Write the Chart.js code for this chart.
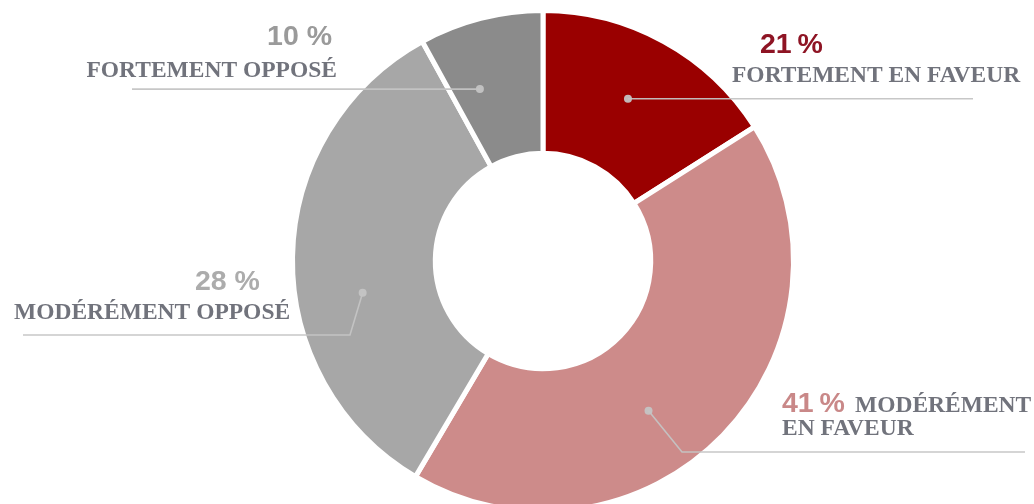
<!DOCTYPE html>
<html lang="fr">
<head>
<meta charset="utf-8">
<script src="https://cdn.jsdelivr.net/npm/chart.js@4.4.1/dist/chart.umd.min.js"></script>
<style>
  html, body { margin: 0; padding: 0; background: #fff; }
  body { width: 1034px; height: 504px; overflow: hidden; }
  .wrap { position: relative; width: 1034px; height: 522px; }
</style>
</head>
<body>
<div class="wrap"><canvas id="opinionChart"></canvas></div>
<script>
/* ============================================================
   opinion doughnut - four answers, labels drawn beside slices
   ============================================================ */

const categories = ["FORTEMENT EN FAVEUR", "MODÉRÉMENT EN FAVEUR", "MODÉRÉMENT OPPOSÉ", "FORTEMENT OPPOSÉ"];
const sliceShares = [16, 42.5, 33.5, 8];
const percentLabels = ["21\u2009%", "41\u2009%", "28 %", "10 %"];

const SLICE_COLORS = ["#9a0000", "#cd8b8a", "#a7a7a7", "#8b8b8b"];
const PERCENT_COLORS = ["#8e1424", "#c98888", "#acacac", "#9a9a9a"];
const NAME_COLOR = "#71737c";
const LEADER_COLOR = "rgba(196,196,196,0.95)";

const PCT_FONT = "bold 28.5px 'Liberation Sans', Arial, sans-serif";
const NAME_FONT = "bold 23.5px 'Liberation Serif', 'Times New Roman', serif";

// where each label sits and how its leader runs
const LABEL_LAYOUT = [
  { along: 0.48, lineTo: [[973, null]], pct: [760, 53, "left"], name: [[732, 82, "left"]] },
  { along: 0.57, lineTo: [[682, 452], [1025, 452]], pct: [782, 412, "left"], name: [[855, 412, "left"], [782, 435, "left"]] },
  { along: 0.41, lineTo: [[350, 335], [23, 335]], pct: [195, 290, "left"], name: [[14, 319, "left"]] },
  { along: 0.3, lineTo: [[132, null]], pct: [332, 45, "right"], name: [[337, 77, "right"]] },
];

function dotFor(arc, along) {
  const { x, y, startAngle, endAngle, innerRadius, outerRadius } = arc.getProps(
    ["x", "y", "startAngle", "endAngle", "innerRadius", "outerRadius"], true);
  const angle = startAngle + (endAngle - startAngle) * along;
  const r = (innerRadius + outerRadius) / 2 + 4;
  return { x: x + Math.cos(angle) * r, y: y + Math.sin(angle) * r };
}

function nameLines(index) {
  const words = categories[index].split(" ");
  const slots = LABEL_LAYOUT[index].name.length;
  if (slots === 1) return [categories[index]];
  return [words[0], words.slice(1).join(" ")];
}

const sideLabels = {
  id: "sideLabels",
  afterDatasetsDraw(chart) {
    const ctx = chart.ctx;
    const arcs = chart.getDatasetMeta(0).data;
    ctx.save();
    arcs.forEach((arc, i) => {
      const layout = LABEL_LAYOUT[i];
      const dot = dotFor(arc, layout.along);

      ctx.strokeStyle = LEADER_COLOR;
      ctx.lineWidth = 1.6;
      ctx.beginPath();
      ctx.moveTo(dot.x, dot.y);
      layout.lineTo.forEach(([px, py]) => ctx.lineTo(px, py === null ? dot.y : py));
      ctx.stroke();

      ctx.fillStyle = LEADER_COLOR;
      ctx.beginPath();
      ctx.arc(dot.x, dot.y, 4, 0, Math.PI * 2);
      ctx.fill();

      ctx.textBaseline = "alphabetic";
      ctx.font = PCT_FONT;
      ctx.fillStyle = PERCENT_COLORS[i];
      ctx.textAlign = layout.pct[2];
      ctx.fillText(percentLabels[i], layout.pct[0], layout.pct[1]);

      ctx.font = NAME_FONT;
      ctx.fillStyle = NAME_COLOR;
      nameLines(i).forEach((text, k) => {
        const [nx, ny, align] = layout.name[k];
        ctx.textAlign = align;
        ctx.fillText(text, nx, ny);
      });
    });
    ctx.restore();
  },
};

function renderOpinionChart() {
  new Chart(document.getElementById("opinionChart"), {
    type: "doughnut",
    data: {
      labels: categories,
      datasets: [{
        data: sliceShares,
        backgroundColor: SLICE_COLORS,
        borderColor: "#ffffff",
        borderWidth: 5,
      }],
    },
    options: {
      responsive: true,
      maintainAspectRatio: false,
      animation: false,
      radius: 250.5,
      cutout: "43%",
      layout: { padding: { left: 52 } },
      plugins: { legend: { display: false }, tooltip: { enabled: false } },
    },
    plugins: [sideLabels],
  });
}

document.addEventListener("DOMContentLoaded", renderOpinionChart);
</script>
</body>
</html>
